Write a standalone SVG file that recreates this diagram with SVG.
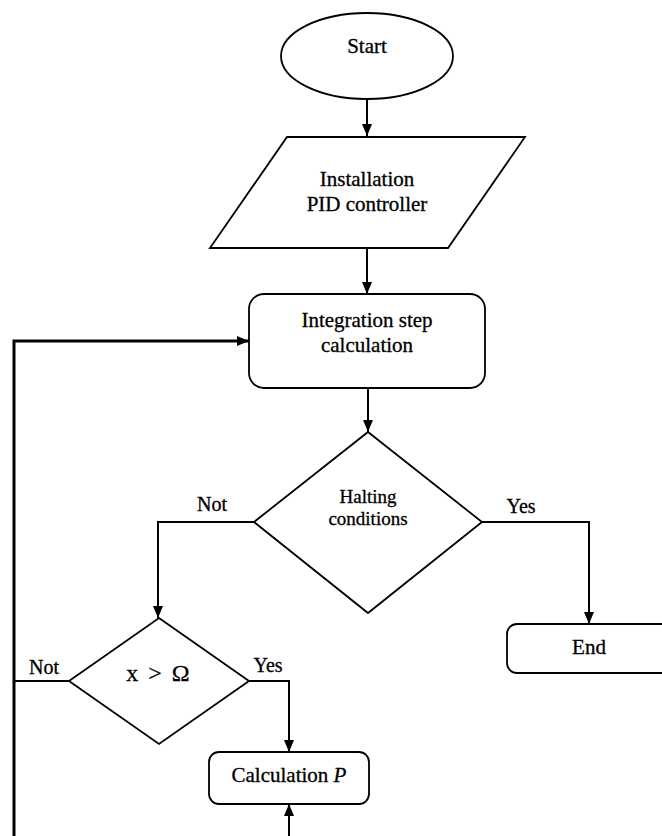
<svg xmlns="http://www.w3.org/2000/svg" width="662" height="836" viewBox="0 0 662 836">
<style>
.s{fill:#fff;stroke:#000;stroke-width:1.8}
.c{fill:none;stroke:#000;stroke-width:2}
.t{font-family:"Liberation Serif","Times New Roman",serif;font-size:21px;fill:#000;text-anchor:middle;stroke:#000;stroke-width:0.3}
</style>
<defs>
<marker id="a" viewBox="0 0 12 10" refX="12" refY="5" markerWidth="12" markerHeight="10" markerUnits="userSpaceOnUse" orient="auto">
<path d="M0,0 L12,5 L0,10 Z" fill="#000"/>
</marker>
</defs>
<rect width="662" height="836" fill="#fff"/>
<g id="connectors">
<line class="c" x1="367" y1="100" x2="367" y2="136" marker-end="url(#a)"/>
<line class="c" x1="367" y1="248" x2="367" y2="294" marker-end="url(#a)"/>
<line class="c" x1="368" y1="388" x2="368" y2="432" marker-end="url(#a)"/>
<polyline class="c" points="254,522 158,522 158,618" marker-end="url(#a)"/>
<polyline class="c" points="482,522 589,522 589,624" marker-end="url(#a)"/>
<polyline class="c" points="249,681 289,681 289,752" marker-end="url(#a)"/>
<line class="c" x1="69" y1="681" x2="14" y2="681"/>
<polyline class="c" style="stroke-width:3" points="14,836 14,341 249,341" marker-end="url(#a)"/>
<line class="c" x1="289" y1="836" x2="289" y2="804" marker-end="url(#a)"/>
<text class="t" x="212" y="511" style="font-size:20px">Not</text>
<text class="t" x="521" y="513" style="font-size:20px">Yes</text>
<text class="t" x="44" y="674" style="font-size:20px">Not</text>
<text class="t" x="268" y="672" style="font-size:20px">Yes</text>
</g>
<g id="start">
<ellipse class="s" cx="367" cy="56" rx="86" ry="43"/>
<text class="t" x="367" y="53">Start</text>
</g>
<g id="install">
<polygon class="s" points="287,137 525,137 448,248 210,248"/>
<text class="t" x="367" y="186">Installation</text>
<text class="t" x="367" y="211">PID controller</text>
</g>
<g id="integration">
<rect class="s" x="249" y="294" width="236" height="94" rx="15"/>
<text class="t" x="367" y="327">Integration step</text>
<text class="t" x="367" y="352">calculation</text>
</g>
<g id="halting">
<polygon class="s" points="368,432 482,522 368,613 254,522"/>
<text class="t" x="368" y="503" style="font-size:19px">Halting</text>
<text class="t" x="368" y="525" style="font-size:19px">conditions</text>
</g>
<g id="end">
<rect class="s" x="507" y="624" width="175" height="49" rx="10"/>
<text class="t" x="589" y="654">End</text>
</g>
<g id="compare">
<polygon class="s" points="159,618 249,681 159,744 69,681"/>
<text class="t" x="158" y="681" style="font-size:24px;word-spacing:4px">x &gt; Ω</text>
</g>
<g id="calcP">
<rect class="s" x="209" y="752" width="160" height="52" rx="10"/>
<text class="t" x="289" y="782">Calculation <tspan font-style="italic">P</tspan></text>
</g>
</svg>
